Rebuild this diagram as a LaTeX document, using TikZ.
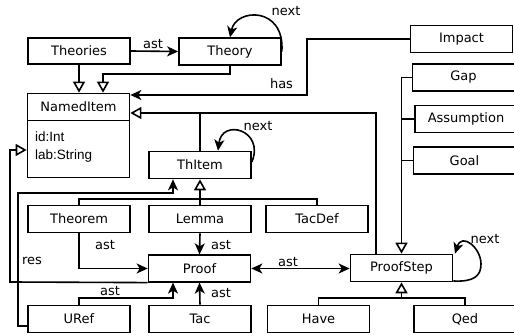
\documentclass[tikz,border=0pt]{standalone}
\usepackage{fontspec}
\setmainfont{DejaVu Sans}
\newfontfamily\attrfont{Liberation Sans}
\usetikzlibrary{arrows.meta,calc}
\begin{document}
\begin{tikzpicture}[x=1pt,y=-1pt,
  box/.style={draw,line width=1.7pt,minimum width=102pt,minimum height=26.5pt,inner sep=0pt,font=\fontsize{13}{15}\selectfont},
  con/.style={line width=1.6pt},
  arr/.style={con,-{Stealth[length=11pt,width=10pt,inset=3pt]}},
  darr/.style={con,{Stealth[length=11pt,width=10pt,inset=3pt]}-{Stealth[length=11pt,width=10pt,inset=3pt]}},
  inh/.style={con,-{Triangle[open,length=11pt,width=12pt]}},
  lbl/.style={font=\fontsize{13}{15}\selectfont,inner sep=0pt},
  attr/.style={font=\attrfont\fontsize{13.5}{16}\selectfont,inner sep=0pt,anchor=base west}]
\useasboundingbox (0,0) rectangle (514,336);
% nodes
\node[box] (theories) at (79,51) {Theories};
\node[box] (theory) at (230,51.5) {Theory};
\node[box,minimum height=84pt] (ni) at (78.5,135.5) {};
\node[lbl] (nih) at (78.5,106.5) {NamedItem};
\draw[line width=0.9pt] (ni.west |- 0,120) -- (ni.east |- 0,120);
\node[attr] (a1) at (35,142) {id:Int};
\node[attr] (a2) at (35,160) {lab:String};
\node[box,minimum height=27pt] (impact) at (461.5,39) {Impact};
\node[box] (gap) at (463.5,77.5) {Gap};
\node[box,minimum height=27pt] (assm) at (466,119) {Assumption};
\node[box,minimum height=27pt] (goal) at (464.5,160.5) {Goal};
\node[box,minimum height=27pt] (thitem) at (200,165) {ThItem};
\node[box,minimum height=27pt] (theorem) at (79,219) {Theorem};
\node[box,minimum height=27pt] (lemma) at (200,219) {Lemma};
\node[box,minimum height=27pt] (tacdef) at (317,219) {TacDef};
\node[box] (proof) at (199.5,268.5) {Proof};
\node[box,minimum height=27pt] (ps) at (401.5,268) {ProofStep};
\node[box,minimum height=27pt] (uref) at (79,319) {URef};
\node[box,minimum height=27pt] (tac) at (200,319) {Tac};
\node[box,minimum height=27pt] (have) at (318.5,319) {Have};
\node[box,minimum height=27pt] (qed) at (465,319) {Qed};
% connectors
\draw[arr] (theories.east) -- (theory.west) node[lbl] at (153,44) {ast};
\draw[arr] (theory.east) .. controls (285,6) and (236,8) .. (theory.north) node[lbl] at (286,11) {next};
\draw[inh] (theories.south) -- (theories.south |- ni.north);
\draw[inh] (theory.south) |- (103,74) -- (103,74 |- ni.north);
\draw[arr] (impact.west) -| (307,95) -- (ni.east |- 0,95) node[lbl] at (281.5,84) {has};
\draw[inh] (ps.north -| 376,0) |- (200,113) -- (ni.east |- 0,113);
\draw[con] (thitem.north) -- (200,113);
\draw[arr] (thitem.east |- 0,162) .. controls (265,130) and (222,118) .. (thitem.north -| 218,0) node[lbl] at (258,126) {next};
\draw[inh] (lemma.north) -- (thitem.south);
\draw[con] (theorem.north) |- (0,199 -| tacdef.north) -- (tacdef.north);
\draw[arr] (uref.west |- 0,326) -- (18,326) -- (18,193) -| (thitem.south -| 173,0) node[lbl] at (32,261) {res};
\draw[inh] (proof.south west) -- (10,282) -- (10,150) -- (ni.west |- 0,150);
\draw[arr] (theorem.south) |- (proof.west) node[lbl] at (105,245) {ast};
\draw[arr] (lemma.south) -- (proof.north) node[lbl] at (221,245) {ast};
\draw[darr] (proof.east) -- (proof.east -| ps.west) node[lbl] at (288,262) {ast};
\draw[arr] (ps.east |- 0,281) .. controls (474,282) and (481,276) .. (481,264) .. controls (481,248) and (462,232) .. (ps.north -| 455,0) node[lbl] at (485,239) {next};
\draw[inh] (gap.west) -| (ps.north);
\draw[con] (assm.west) -- (assm.west -| ps.north);
\draw[con] (goal.west) -- (goal.west -| ps.north);
\draw[inh] (ps.south |- 0,298) -- (ps.south);
\draw[con] (have.north) |- (0,298 -| qed.north) -- (qed.north);
\draw[arr] (uref.north) |- (173,298) -- (proof.south -| 173,0) node[lbl] at (110,291) {ast};
\draw[arr] (tac.north) -- (proof.south) node[lbl] at (221,293) {ast};
\end{tikzpicture}
\end{document}
